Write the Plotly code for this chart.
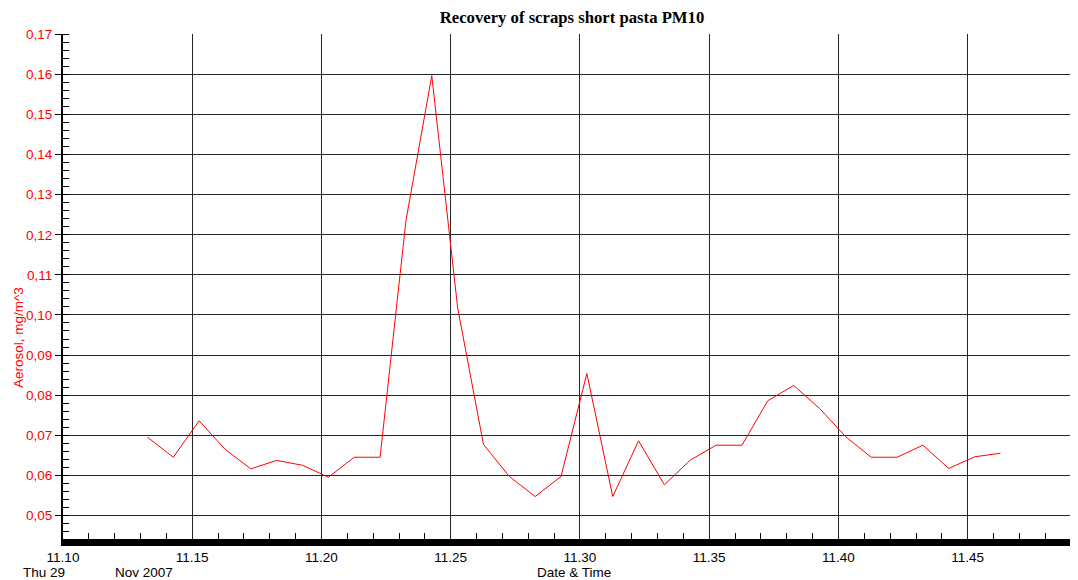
import plotly.graph_objects as go

# ---- data ----
times = [
    "2007-11-29 11:13:16", "2007-11-29 11:14:16", "2007-11-29 11:15:16", "2007-11-29 11:16:16",
    "2007-11-29 11:17:16", "2007-11-29 11:18:16", "2007-11-29 11:19:16", "2007-11-29 11:20:16",
    "2007-11-29 11:21:16", "2007-11-29 11:22:16", "2007-11-29 11:23:16", "2007-11-29 11:24:16",
    "2007-11-29 11:25:16", "2007-11-29 11:26:16", "2007-11-29 11:27:16", "2007-11-29 11:28:16",
    "2007-11-29 11:29:16", "2007-11-29 11:30:16", "2007-11-29 11:31:16", "2007-11-29 11:32:16",
    "2007-11-29 11:33:16", "2007-11-29 11:34:16", "2007-11-29 11:35:16", "2007-11-29 11:36:16",
    "2007-11-29 11:37:16", "2007-11-29 11:38:16", "2007-11-29 11:39:16", "2007-11-29 11:40:16",
    "2007-11-29 11:41:16", "2007-11-29 11:42:16", "2007-11-29 11:43:16", "2007-11-29 11:44:16",
    "2007-11-29 11:45:16", "2007-11-29 11:46:16",
]
aerosol = [
    0.0695, 0.0645, 0.0736, 0.0665, 0.0616, 0.0637, 0.0625, 0.0595,
    0.0645, 0.0645, 0.1235, 0.1597, 0.1018, 0.0677, 0.0597, 0.0547,
    0.0597, 0.0854, 0.0547, 0.0686, 0.0576, 0.0638, 0.0675, 0.0675,
    0.0786, 0.0824, 0.0767, 0.0697, 0.0645, 0.0645, 0.0675, 0.0617,
    0.0646, 0.0655,
]

x_range = ["2007-11-29 11:10:00", "2007-11-29 11:49:16"]
y_range = [0.0441, 0.1701]

title_text = "Recovery of scraps short pasta PM10"
y_title = "Aerosol, mg/m^3"
x_title = "Date & Time"
day_label = "Thu 29"
month_label = "Nov 2007"

# page body adds an 8px offset; the figure is sized to fit the window
OFF = 8
W, H = 1078 - OFF, 580 - OFF
PL, PT, PB = 63 - OFF, 34 - OFF, 539 - OFF
PW, PH = W - PL, PB - PT

fig = go.Figure()
fig.add_trace(go.Scatter(
    x=times, y=aerosol, mode="lines",
    line=dict(color="#ff0000", width=1),
    showlegend=False, hoverinfo="x+y",
))

fig.update_layout(
    width=W, height=H,
    margin=dict(l=PL, r=0, t=PT, b=H - PB, pad=0),
    paper_bgcolor="white", plot_bgcolor="white",
    separators=",.",
    font=dict(family="Liberation Sans, Arial, sans-serif", size=13.5, color="black"),
    title=dict(
        text="<b>" + title_text + "</b>",
        font=dict(family="Liberation Serif, Times New Roman, serif", size=16.7, color="black"),
        x=(572 - 63) / PW, xref="paper", xanchor="center",
        y=1 - (17 - OFF) / H, yref="container", yanchor="middle",
    ),
    xaxis=dict(
        type="date", range=x_range,
        tick0="2007-11-29 11:10:00", dtick=300000, tickformat="%H.%M",
        showgrid=True, gridcolor="#262626", gridwidth=1,
        showline=True, linecolor="black", linewidth=7,
        ticks="", tickfont=dict(color="black", size=13.5),
        minor=dict(dtick=60000, ticks="inside", ticklen=6, tickcolor="black",
                   tickwidth=1, showgrid=False),
        zeroline=False,
    ),
    yaxis=dict(
        range=y_range, tick0=0.05, dtick=0.01, tickformat=".2f",
        showgrid=True, gridcolor="#262626", gridwidth=1,
        showline=True, linecolor="black", linewidth=2,
        ticks="outside", ticklen=6, tickcolor="black", tickwidth=1,
        tickfont=dict(color="#ff0000", size=13.5),
        minor=dict(dtick=0.002, ticks="inside", ticklen=6, tickcolor="black",
                   tickwidth=1, showgrid=False),
        zeroline=False,
    ),
    annotations=[
        dict(text=y_title, textangle=-90, xref="paper", yref="paper",
             x=(18 - 63) / PW, y=(539 - 338) / PH, xanchor="center", yanchor="middle",
             showarrow=False, font=dict(color="#ff0000", size=13.5)),
        dict(text=day_label, xref="paper", yref="paper",
             x=(21 - 63) / PW, y=-(572 - 539) / PH, xanchor="left", yanchor="middle",
             showarrow=False, font=dict(color="black", size=13.5)),
        dict(text=month_label, xref="paper", yref="paper",
             x=(113 - 63) / PW, y=-(572 - 539) / PH, xanchor="left", yanchor="middle",
             showarrow=False, font=dict(color="black", size=13.5)),
        dict(text=x_title, xref="paper", yref="paper",
             x=(574 - 63) / PW, y=-(572 - 539) / PH, xanchor="center", yanchor="middle",
             showarrow=False, font=dict(color="black", size=13.5)),
    ],
)

fig.write_html("out.html")
